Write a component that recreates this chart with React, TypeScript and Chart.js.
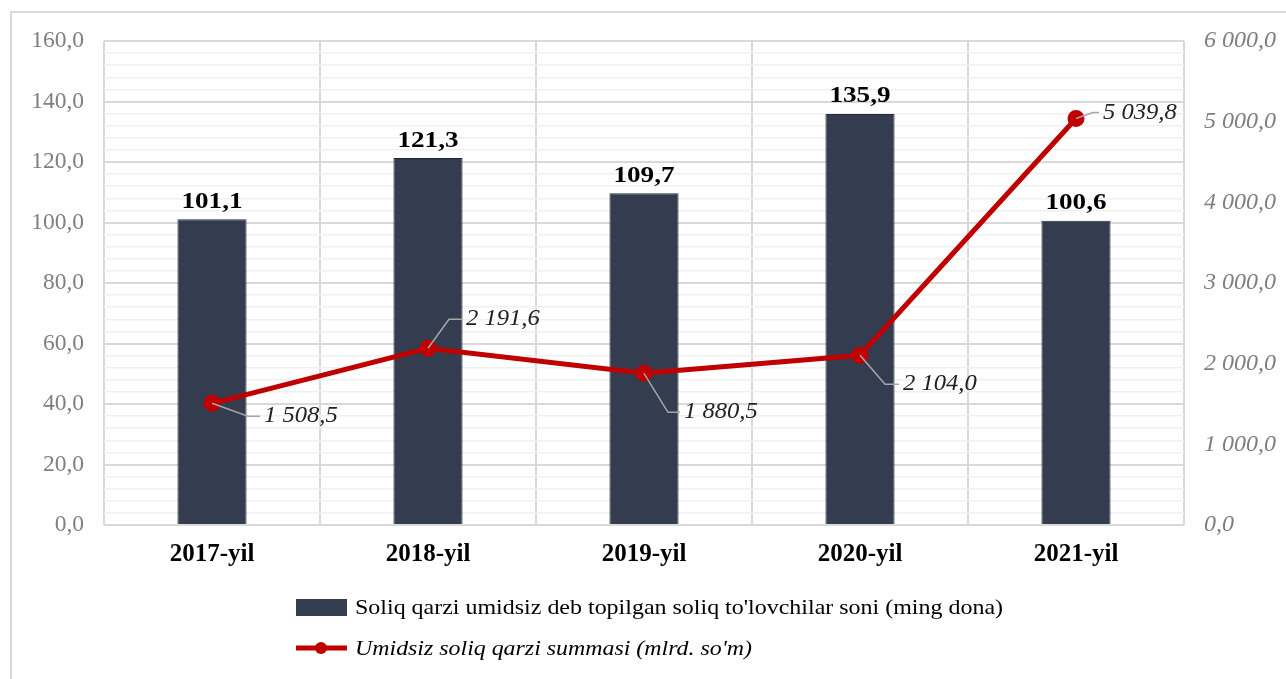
import React, { useEffect, useRef } from "react";
import { Chart, registerables } from "chart.js";

Chart.register(...registerables);

const categories = ["2017-yil", "2018-yil", "2019-yil", "2020-yil", "2021-yil"];
const taxpayers = [101.1, 121.3, 109.7, 135.9, 100.6];
const debtSum = [1508.5, 2191.6, 1880.5, 2104.0, 5039.8];
const barLabel = "Soliq qarzi umidsiz deb topilgan soliq to'lovchilar soni (ming dona)";
const lineLabel = "Umidsiz soliq qarzi summasi (mlrd. so'm)";

// label leader offsets (style only): [elbowDx, elbowDy, textDx]
const lineLabelOffsets = [
  [36, 13, 52],
  [21, -29, 38],
  [24, 39, 40],
  [25, 29, 43],
  [17, -6, 27],
];

const SERIF = "'Liberation Serif', 'Times New Roman', serif";
const BAR_COLOR = "#333d4f";
const RED = "#c00000";

function fmt(v: number, d = 1) {
  const s = v.toFixed(d);
  const [i, f] = s.split(".");
  const ii = i.replace(/\B(?=(\d{3})+(?!\d))/g, " ");
  return f ? ii + "," + f : ii;
}

function stretchedText(ctx: any, text: string, x: number, y: number, sx: number) {
  ctx.save();
  ctx.translate(x, y);
  ctx.scale(sx, 1);
  ctx.fillText(text, 0, 0);
  ctx.restore();
}

const decorPlugin = {
  id: "decor",
  beforeDraw(chart: any) {
    const ctx = chart.ctx;
    ctx.save();
    ctx.strokeStyle = "#d9d9d9";
    ctx.lineWidth = 2;
    ctx.strokeRect(11, 12, 1300, 700);
    ctx.restore();
  },
  afterDatasetsDraw(chart: any) {
    const ctx = chart.ctx;
    ctx.save();
    // bar labels
    const barMeta = chart.getDatasetMeta(0);
    ctx.font = `bold 23px ${SERIF}`;
    ctx.fillStyle = "#000";
    ctx.textAlign = "center";
    ctx.textBaseline = "bottom";
    barMeta.data.forEach((el: any, i: number) => {
      stretchedText(ctx, fmt(taxpayers[i]), el.x, el.y - 6, 1.18);
    });
    // line labels
    const lineMeta = chart.getDatasetMeta(1);
    ctx.font = `italic 23px ${SERIF}`;
    ctx.textAlign = "left";
    ctx.textBaseline = "middle";
    lineMeta.data.forEach((el: any, i: number) => {
      const [ex, ey, tx] = lineLabelOffsets[i];
      ctx.strokeStyle = "#a6a6a6";
      ctx.lineWidth = 1.5;
      ctx.beginPath();
      ctx.moveTo(el.x, el.y);
      ctx.lineTo(el.x + ex, el.y + ey);
      ctx.lineTo(el.x + tx - 4, el.y + ey);
      ctx.stroke();
      ctx.fillStyle = "#222";
      stretchedText(ctx, fmt(debtSum[i]), el.x + tx, el.y + ey, 1.07);
    });
    ctx.restore();
  },
  afterDraw(chart: any) {
    const ctx = chart.ctx;
    ctx.save();
    // legend row 1
    ctx.fillStyle = BAR_COLOR;
    ctx.fillRect(296, 599, 51, 17);
    ctx.fillStyle = "#000";
    ctx.font = `21px ${SERIF}`;
    ctx.textAlign = "left";
    ctx.textBaseline = "middle";
    const w1 = ctx.measureText(barLabel).width;
    stretchedText(ctx, barLabel, 355, 608, 648 / w1);
    // legend row 2
    ctx.strokeStyle = RED;
    ctx.lineWidth = 5;
    ctx.beginPath();
    ctx.moveTo(296, 648);
    ctx.lineTo(347, 648);
    ctx.stroke();
    ctx.fillStyle = RED;
    ctx.beginPath();
    ctx.arc(321, 648, 6, 0, Math.PI * 2);
    ctx.fill();
    ctx.fillStyle = "#000";
    ctx.font = `italic 21px ${SERIF}`;
    const w2 = ctx.measureText(lineLabel).width;
    stretchedText(ctx, lineLabel, 355, 649, 397 / w2);
    ctx.restore();
  },
};

export default function App() {
  const ref = useRef<HTMLCanvasElement>(null);
  useEffect(() => {
    if (!ref.current) return;
    const chart = new Chart(ref.current, {
      type: "bar",
      data: {
        labels: categories,
        datasets: [
          {
            type: "bar",
            label: barLabel,
            data: taxpayers,
            backgroundColor: BAR_COLOR,
            borderColor: "#222a38",
            borderWidth: 1,
            yAxisID: "y",
            barPercentage: 0.32,
            categoryPercentage: 1,
            order: 1,
          },
          {
            type: "line",
            label: lineLabel,
            data: debtSum,
            borderColor: RED,
            backgroundColor: RED,
            borderWidth: 5,
            pointRadius: 6,
            pointHoverRadius: 6,
            pointBackgroundColor: RED,
            pointBorderColor: RED,
            yAxisID: "y1",
            tension: 0,
            order: 0,
          } as any,
        ],
      },
      options: {
        responsive: false,
        animation: false,
        devicePixelRatio: 1,
        layout: { padding: { top: 41, left: 0, right: 0, bottom: 0 } },
        plugins: {
          legend: { display: false },
          tooltip: { enabled: false },
        },
        scales: {
          x: {
            offset: true,
            grid: {
              offset: true,
              color: "#d9d9d9",
              lineWidth: 2,
              drawTicks: false,
            },
            border: { display: false },
            ticks: {
              color: "#000",
              font: { family: SERIF, size: 25, weight: "bold" },
              padding: 15,
            },
            afterFit(scale: any) {
              scale.height = 154;
            },
          },
          y: {
            position: "left",
            min: 0,
            max: 160,
            ticks: {
              stepSize: 4,
              autoSkip: false,
              color: "#7f7f7f",
              font: { family: SERIF, size: 23.5 },
              padding: 20,
              callback: (v: any) => (Number(v) % 20 === 0 ? fmt(Number(v)) : ""),
            },
            grid: {
              drawTicks: false,
              color: (c: any) => (c.tick && c.tick.value % 20 === 0 ? "#d9d9d9" : "#f0f0f0"),
              lineWidth: (c: any) => (c.tick && c.tick.value % 20 === 0 ? 2 : 1.5),
            },
            border: { display: false },
            afterFit(scale: any) {
              scale.width = 104;
            },
          },
          y1: {
            position: "right",
            min: 0,
            max: 6000,
            ticks: {
              stepSize: 1000,
              color: "#7f7f7f",
              font: { family: SERIF, size: 24, style: "italic" },
              padding: 20,
              callback: (v: any) => fmt(Number(v)),
            },
            grid: { drawOnChartArea: false, drawTicks: false },
            border: { display: false },
            afterFit(scale: any) {
              scale.width = 102;
            },
          },
        },
      } as any,
      plugins: [decorPlugin],
    });
    return () => chart.destroy();
  }, []);
  return (
    <div style={{ position: "absolute", left: 0, top: 0, width: 1286, height: 679, background: "#fff" }}>
      <canvas ref={ref} width={1286} height={679} style={{ display: "block" }} />
    </div>
  );
}
